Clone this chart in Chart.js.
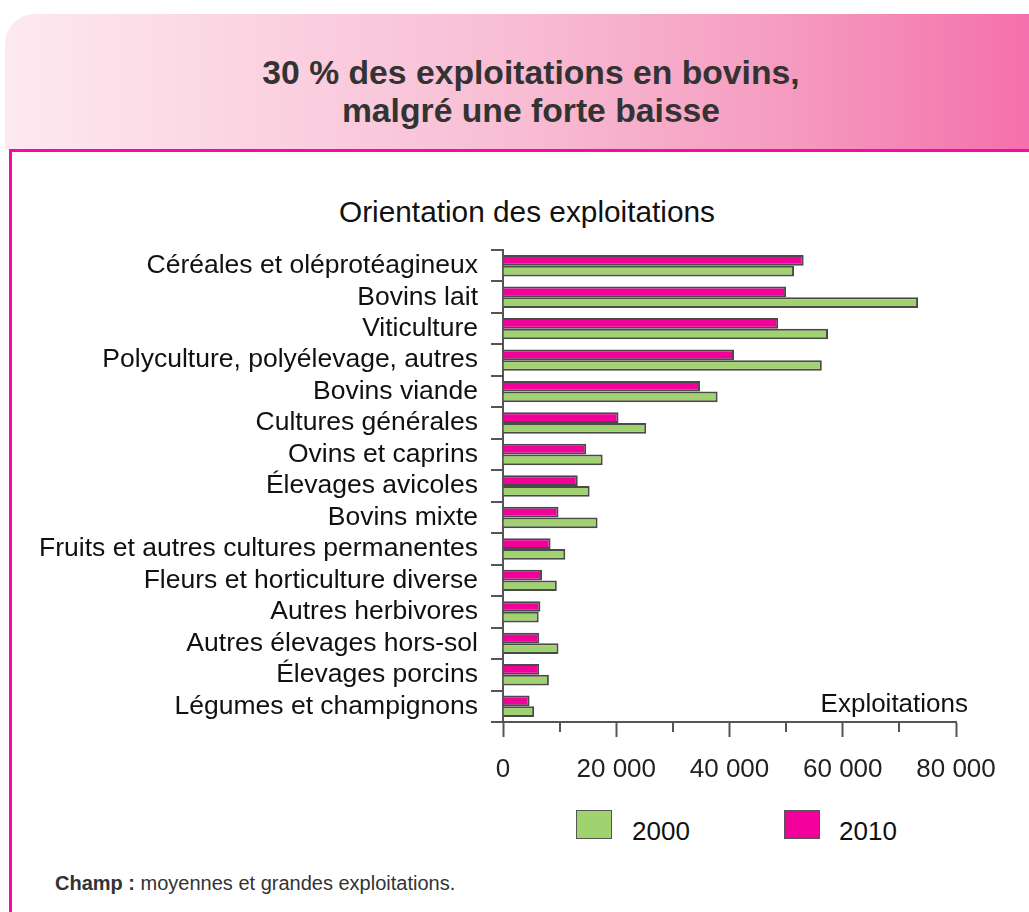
<!DOCTYPE html>
<html>
<head>
<meta charset="utf-8">
<script src="https://cdn.jsdelivr.net/npm/chart.js@4/dist/chart.umd.min.js"></script>
<style>
  body { margin: 0; width: 1029px; height: 912px; position: relative; overflow: hidden; background: #fff;
         font-family: "Liberation Sans", Arial, sans-serif; }
  #band { position: absolute; left: 5px; top: 14px; width: 1040px; height: 136px; border-top-left-radius: 30px;
          background: linear-gradient(to right, #fde9f0 0%, #fbd2e1 25%, #f8bcd3 50%, #f59cc0 75%, #f46dab 100%); }
  #frame { position: absolute; left: 9px; top: 149px; width: 1040px; height: 800px;
           border-top: 3px solid #fb08a0; border-left: 3px solid #fb08a0; }
  #title { position: absolute; left: 0; top: 53px; width: 1062px; text-align: center; font-weight: bold;
           font-size: 33.7px; line-height: 38px; color: #333; }
  #sub { position: absolute; left: 0; top: 195px; width: 1054px; text-align: center; font-size: 29.8px;
         line-height: 34px; color: #111; }
  #chartbox { position: absolute; left: 0; top: 230px; width: 1029px; height: 560px; }
  .key { position: absolute; width: 34px; height: 27px; border: 1.5px solid #555; top: 810px; }
  .keytxt { position: absolute; top: 816px; font-size: 26px; line-height: 30px; color: #111; }
  #note { position: absolute; left: 55px; top: 871px; font-size: 20px; line-height: 24px; color: #333; }
</style>
</head>
<body>
<div id="band"></div>
<div id="frame"></div>
<div id="title">30 % des exploitations en bovins,<br>malgré une forte baisse</div>
<div id="sub">Orientation des exploitations</div>
<div id="chartbox"><canvas id="graph" width="1029" height="560"></canvas></div>
<div class="key" style="left:576px;background:#a0d36f"></div>
<div class="keytxt" style="left:632px">2000</div>
<div class="key" style="left:784px;background:#f2009a"></div>
<div class="keytxt" style="left:839px">2010</div>
<div id="note"><b>Champ :</b> moyennes et grandes exploitations.</div>
<script>
const categories = [
    "Céréales et oléprotéagineux",
    "Bovins lait",
    "Viticulture",
    "Polyculture, polyélevage, autres",
    "Bovins viande",
    "Cultures générales",
    "Ovins et caprins",
    "Élevages avicoles",
    "Bovins mixte",
    "Fruits et autres cultures permanentes",
    "Fleurs et horticulture diverse",
    "Autres herbivores",
    "Autres élevages hors-sol",
    "Élevages porcins",
    "Légumes et champignons"
];
const values2010 = [53100, 50000, 48600, 40800, 34800, 20400, 14700, 13200, 9800, 8400, 6900, 6600, 6400, 6400, 4700];
const values2000 = [51400, 73300, 57400, 56300, 37900, 25300, 17600, 15300, 16700, 11000, 9500, 6300, 9800, 8100, 5500];
const xMax = 80000;
const xStep = 10000;
const xLabelStep = 20000;
const axisTitle = "Exploitations";

const axisGrey = "#555";
Chart.defaults.font.family = '"Liberation Sans", Arial, sans-serif';
Chart.defaults.color = "#111";

function spaced(v) {
    return String(v).replace(/\B(?=(\d{3})+(?!\d))/g, " ");
}

// minor ticks are shorter, and the axis title sits inside the plot
const extras = {
    id: "extras",
    afterDraw(chart) {
        const ctx = chart.ctx;
        const x = chart.scales.x;
        const bottom = chart.chartArea.bottom;
        ctx.save();
        ctx.strokeStyle = axisGrey;
        ctx.lineWidth = 2;
        for (let v = xStep; v < xMax; v += xLabelStep) {
            const px = Math.round(x.getPixelForValue(v));
            ctx.beginPath();
            ctx.moveTo(px, bottom);
            ctx.lineTo(px, bottom + 10);
            ctx.stroke();
        }
        ctx.fillStyle = "#111";
        ctx.font = '26px "Liberation Sans", Arial, sans-serif';
        ctx.textAlign = "right";
        ctx.textBaseline = "middle";
        ctx.fillText(axisTitle, 968, bottom - 17);
        ctx.restore();
    }
};

var chart = new Chart(document.getElementById("graph"), {
    type: "bar",
    data: {
        labels: categories,
        datasets: [{
            label: "2010",
            data: values2010,
            backgroundColor: "#f2009a",
            borderColor: "#4a4a4a",
            borderWidth: 2
        }, {
            label: "2000",
            data: values2000,
            backgroundColor: "#a0d36f",
            borderColor: "#4a4a4a",
            borderWidth: 2
        }]
    },
    options: {
        indexAxis: "y",
        responsive: false,
        animation: false,
        datasets: {bar: {categoryPercentage: 0.68, barPercentage: 1.0}},
        layout: {padding: {top: 20, right: 73, bottom: 0, left: 0}},
        plugins: {legend: {display: false}, tooltip: {enabled: false}},
        scales: {
            x: {
                min: 0,
                max: xMax,
                afterFit: s => { s.height = 68; s.paddingLeft = 0; s.paddingRight = 0; },
                grid: {
                    drawOnChartArea: false,
                    tickLength: 15,
                    tickWidth: 2,
                    tickColor: c => (c.tick && c.tick.value % xLabelStep === 0) ? axisGrey : "rgba(0,0,0,0)"
                },
                border: {color: axisGrey, width: 2},
                ticks: {
                    stepSize: xStep,
                    autoSkip: false,
                    maxRotation: 0,
                    padding: 17,
                    color: "#222",
                    font: {size: 26},
                    callback: v => v % xLabelStep === 0 ? spaced(v) : ""
                }
            },
            y: {
                afterFit: s => { s.width = 503; s.paddingTop = 0; s.paddingBottom = 0; },
                grid: {
                    offset: true,
                    drawOnChartArea: false,
                    tickLength: 12,
                    color: axisGrey,
                    lineWidth: 2
                },
                border: {color: axisGrey, width: 2},
                ticks: {
                    autoSkip: false,
                    padding: 13,
                    color: "#111",
                    font: {size: 26.5}
                }
            }
        }
    },
    plugins: [extras]
});
</script>
</body>
</html>
